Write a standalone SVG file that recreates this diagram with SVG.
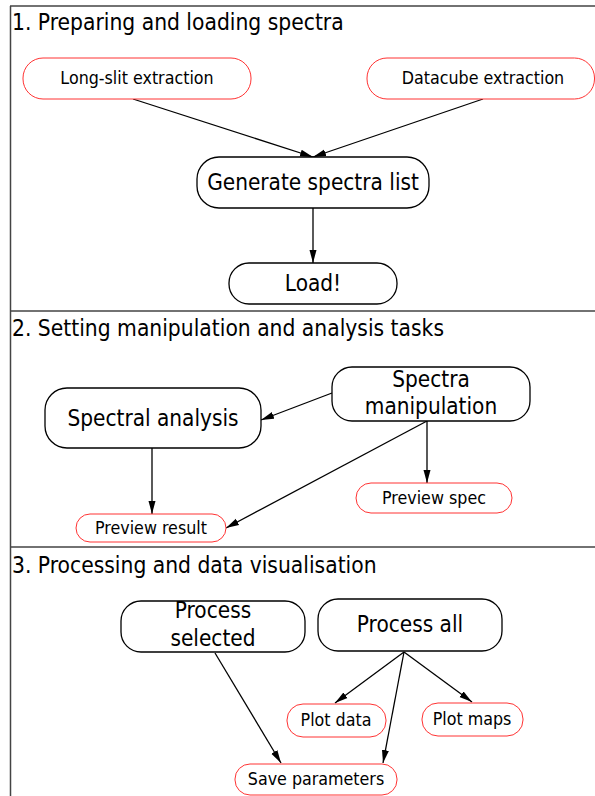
<svg xmlns="http://www.w3.org/2000/svg" width="595" height="796" viewBox="0 0 595 796">
<style>
text{font-family:"DejaVu Sans Condensed","DejaVu Sans","Liberation Sans",sans-serif;font-stretch:condensed;fill:#000;text-anchor:middle}
.t{font-size:22.6px;text-anchor:start}
.b{font-size:22.4px}
.s{font-size:17.7px}
.nb{fill:#fff;stroke:#000;stroke-width:1.3}
.nr{fill:#fff;stroke:#f33;stroke-width:1}
.c{stroke:#000;stroke-width:1.3;fill:none;marker-end:url(#ah)}
.f{stroke:#444;stroke-width:1.5;fill:none}
</style>
<defs>
<marker id="ah" markerUnits="userSpaceOnUse" markerWidth="14" markerHeight="8" refX="13" refY="4" orient="auto">
<path d="M0,0.5 L13,4 L0,7.5 z" fill="#000"/>
</marker>
</defs>
<rect width="595" height="796" fill="#fff"/>
<g id="frame">
<path class="f" d="M10,6 H595 M10.5,6 V796"/>
<path class="f" d="M10,311 H595 M10,547 H595" stroke="#333"/>
</g>
<g id="titles">
<text class="t" x="12" y="30">1. Preparing and loading spectra</text>
<text class="t" x="12" y="336">2. Setting manipulation and analysis tasks</text>
<text class="t" x="12" y="573">3. Processing and data visualisation</text>
</g>
<g id="connectors">
<line class="c" x1="133" y1="99" x2="313" y2="157"/>
<line class="c" x1="483" y1="99" x2="313" y2="157"/>
<line class="c" x1="313" y1="208" x2="313" y2="263"/>
<line class="c" x1="332" y1="393" x2="261" y2="420"/>
<line class="c" x1="152" y1="448" x2="152" y2="514"/>
<line class="c" x1="427" y1="421" x2="226" y2="528"/>
<line class="c" x1="427" y1="421" x2="427" y2="483"/>
<line class="c" x1="215" y1="653" x2="281" y2="763"/>
<line class="c" x1="404" y1="652" x2="335" y2="703"/>
<line class="c" x1="404" y1="652" x2="472" y2="702"/>
<line class="c" x1="404" y1="652" x2="383" y2="763"/>
</g>
<g id="longslit"><rect class="nr" x="23" y="58" width="228" height="41" rx="20"/><text class="s" x="137" y="84">Long-slit extraction</text></g>
<g id="datacube"><rect class="nr" x="367" y="58" width="227.5" height="41" rx="20"/><text class="s" x="483" y="84">Datacube extraction</text></g>
<g id="generate"><rect class="nb" x="197" y="157" width="232" height="51" rx="22"/><text class="b" x="313" y="190">Generate spectra list</text></g>
<g id="load"><rect class="nb" x="229" y="263" width="168" height="41" rx="20"/><text class="b" x="313" y="291">Load!</text></g>
<g id="spectral"><rect class="nb" x="45" y="388" width="216" height="60" rx="22"/><text class="b" x="153" y="426">Spectral analysis</text></g>
<g id="manip"><rect class="nb" x="332" y="367" width="198" height="54" rx="20"/><text class="b" x="431" y="387">Spectra</text><text class="b" x="431" y="414">manipulation</text></g>
<g id="prevresult"><rect class="nr" x="76" y="514" width="150" height="28" rx="14"/><text class="s" x="151" y="534">Preview result</text></g>
<g id="prevspec"><rect class="nr" x="356" y="483" width="156" height="30" rx="15"/><text class="s" x="434" y="504">Preview spec</text></g>
<g id="procsel"><rect class="nb" x="121" y="601" width="184" height="51" rx="20"/><text class="b" x="213" y="618">Process</text><text class="b" x="213" y="646">selected</text></g>
<g id="procall"><rect class="nb" x="318" y="599" width="184" height="52" rx="20"/><text class="b" x="410" y="632">Process all</text></g>
<g id="plotdata"><rect class="nr" x="287" y="704" width="99" height="33" rx="16"/><text class="s" x="336" y="726">Plot data</text></g>
<g id="plotmaps"><rect class="nr" x="422" y="703" width="101" height="33" rx="16"/><text class="s" x="472" y="725">Plot maps</text></g>
<g id="saveparams"><rect class="nr" x="235" y="764" width="162" height="31" rx="15"/><text class="s" x="316" y="785">Save parameters</text></g>
</svg>
